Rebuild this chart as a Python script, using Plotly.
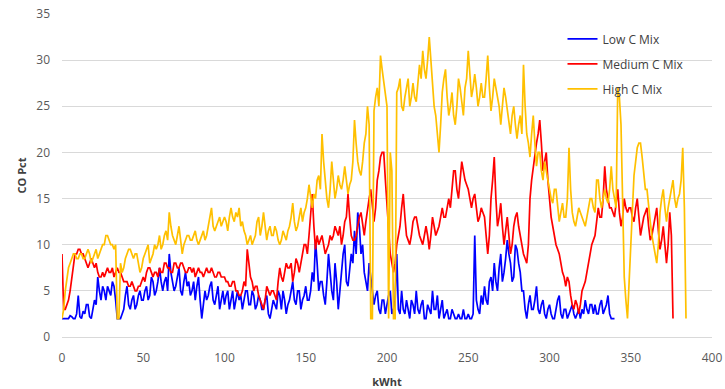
import plotly.graph_objects as go

STEP = 1  # kWht spacing of the readings

low_c = [
    2, 2, 2, 2, 2, 2.3, 2.2, 2, 2, 2.5,
    4.5, 2.2, 2, 2.8, 2.5, 3.5, 3.5, 2.2, 2, 3,
    4, 3.5, 6.5, 5, 4, 5.5, 5, 4, 5.5, 5,
    4.5, 6, 5.5, 4, 2, 2, 2, 2.5, 3, 4.5,
    5.5, 3.5, 3, 4, 4.5, 3, 3.5, 4.5, 5, 4,
    4, 5, 5.5, 4, 4.5, 6.5, 6, 4.5, 5, 6,
    7.5, 6, 5, 6, 6.5, 5, 9, 7, 6, 5,
    5.5, 6.5, 7.5, 5, 4.5, 6, 7, 5.5, 6, 4.5,
    5, 6, 4, 5.5, 6.5, 4, 2, 3.5, 5, 4,
    4.5, 5.5, 6, 4, 3.5, 4.5, 5.5, 3, 4, 5,
    3.5, 4.5, 5, 3, 4, 5, 3, 4, 5, 4,
    4.5, 3, 4, 5, 5, 3.5, 3.5, 5, 4.5, 3,
    3.5, 4.5, 4, 3, 3, 4, 4.5, 2.5, 2, 3,
    4, 3.5, 3, 5, 4.5, 3, 5, 4, 2.5, 3.5,
    4, 5, 6, 4, 3.5, 5, 5, 3, 4, 4.5,
    5.5, 4, 4, 5, 7, 6, 10.5, 8, 5, 6,
    6, 4.5, 3.5, 6, 9, 7, 5, 4, 8, 6,
    3, 5, 7.5, 9, 10, 6, 5.5, 7, 9, 8,
    11.5, 9, 13.5, 12, 9, 10, 7, 6, 5, 8,
    6.5, 5, 3.5, 4.5, 5, 3, 2.5, 4, 4, 2.5,
    3.5, 4.5, 5, 2.5, 3, 4, 9, 3, 2.5, 5,
    3, 2.5, 4, 3, 2, 4, 3.5, 2.5, 5, 3,
    2.5, 3.5, 4, 2, 2, 3.5, 3, 2.5, 5, 3,
    3, 4.5, 2, 3, 4, 2, 2.5, 3, 2, 2,
    3, 2.5, 2, 2, 2.5, 2, 2, 3, 2, 2,
    2.5, 2, 2, 2.5, 11, 4, 3, 2.5, 4.5, 3.5,
    5.5, 4, 3.5, 6, 6.5, 5, 8, 6, 5, 7.5,
    9, 6, 7, 8.5, 10.5, 9, 8, 6, 6.5, 10,
    9.5, 8, 7, 5, 5, 3, 2, 3.5, 4.5, 3,
    3, 4, 5.5, 3, 2.5, 3.5, 4, 2.5, 2, 3,
    3.5, 2.5, 2, 2, 3, 4, 4.5, 2.5, 2, 3,
    3, 2, 2.5, 3, 3.5, 2.5, 2, 2.5, 3, 2,
    3, 2.5, 4, 3, 2.5, 3.5, 3.5, 2.5, 3.5, 2.5,
    2.5, 3.5, 4, 2.5, 3, 3.5, 4.5, 2.5, 2, 2,
    2,
]

medium_c = [
    9, 3, 3, 3.5, 4, 5, 6.5, 7.5, 9, 9,
    9.5, 9.5, 9, 9, 8.5, 8, 7.5, 8, 8.5, 8,
    7.5, 8, 7, 6.5, 6.5, 7, 6.5, 7, 7.5, 7,
    7, 7.5, 6.5, 7, 7.5, 7, 7, 6.5, 6, 6,
    6, 5.5, 5.5, 6, 5.5, 5, 5, 5.5, 5.5, 6,
    6.5, 6, 7, 7.5, 7.5, 7, 6.5, 7, 7, 6.5,
    7.5, 7, 7, 8, 8, 7.5, 7.5, 7, 7, 8,
    8, 7.5, 7.5, 8, 8, 7.5, 7, 7, 7.5, 7.5,
    7, 7.5, 6.5, 7, 7.5, 7, 7, 6.5, 7, 7.5,
    7, 7, 7.5, 7, 6.5, 6.5, 7, 7, 6.5, 6.5,
    6.5, 6, 6, 5.5, 5.5, 6, 6, 5, 5, 4.5,
    4.5, 5, 6, 5.5, 9.5, 8, 6.5, 6, 5, 5.5,
    5.5, 4.5, 4, 3.5, 3, 4, 5.5, 5, 4.5, 5,
    5, 4.5, 4, 6, 7.5, 6.5, 6, 7, 8, 7.5,
    7.5, 8, 6, 7, 8.5, 8, 7, 8, 9, 10,
    10, 9, 11, 13, 15.5, 12, 9.5, 11, 10, 10.5,
    11, 10, 9, 9.5, 10, 11, 10.5, 11, 12, 11.5,
    11, 12, 10, 11, 12.5, 13, 15.5, 13, 11, 10.5,
    10.5, 11, 12, 13, 13.5, 12, 11, 12.5, 14, 15,
    16, 14, 12.5, 14, 17, 18, 19.5, 20, 20, 17,
    14, 11, 9, 8, 7, 8, 10, 11, 12, 14,
    15.5, 13, 11, 10.5, 10, 11, 12.5, 13, 13, 12,
    11, 10.5, 10, 11, 12, 11, 9.5, 11, 13, 12,
    11, 11.5, 12, 13, 14, 13, 13, 14, 15, 14,
    16.5, 18, 18, 16, 15, 17, 19, 18, 17, 16.5,
    16, 15, 14, 15, 15.5, 14, 12.5, 13, 14, 13.5,
    13, 11, 9, 11, 15, 17, 19.5, 15, 12, 13,
    14.5, 12, 10, 11.5, 13, 11, 9, 10, 12, 13,
    13.5, 12, 11, 10, 9, 8.5, 8, 10, 15, 17,
    18.5, 20, 21, 22, 23.5, 21, 18, 19, 20, 17,
    15, 13, 12, 11, 10, 9.5, 9, 8, 7, 6.5,
    5.5, 6.5, 6, 4.5, 3.5, 3, 4, 3.5, 2.5, 3.5,
    5, 5.5, 6, 7, 8, 9, 10, 10.5, 11, 12.5,
    14, 13, 13, 15, 18.5, 16, 15, 14, 14, 13.5,
    13, 14.5, 16, 13.5, 12, 13, 15, 14, 13.5, 14,
    14, 13, 12.5, 14, 15, 13, 11, 12, 13, 13.5,
    14, 12, 10.5, 11, 12, 13, 14, 11.5, 9.5, 10.5,
    12, 10, 8, 10, 13.5, 11, 2,
]

high_c = [
    2, 3, 5, 6.5, 7.5, 8, 8.5, 9, 9, 8.5,
    8.5, 9, 9, 8.5, 8.5, 9, 9.5, 9, 8, 8.5,
    9, 9.5, 8.5, 9, 9.5, 10, 10, 11, 11, 10.5,
    10, 10, 9.5, 10, 2, 2, 8, 7, 7.5, 8.5,
    9, 9.5, 9.5, 9, 8.5, 9, 9, 8, 7, 7.5,
    8.5, 9, 9.5, 10, 8, 8.5, 9, 10, 9.5, 10,
    11, 9.5, 10, 11, 11.5, 10.5, 13.5, 12, 11, 10.5,
    10, 11, 12, 10.5, 9, 10, 10.5, 11, 11, 10.5,
    10.5, 11, 11.5, 10.5, 10, 10.5, 11, 11.5, 10.5, 11,
    12, 13, 14, 12, 11.5, 12, 12.5, 13, 12, 12.5,
    13, 12.5, 11.5, 13, 14, 13, 12.5, 13.5, 13, 14,
    12, 12.5, 11.5, 11, 10, 10.5, 11, 10, 10.5, 11,
    12.5, 13, 11, 12, 13.5, 12, 10.5, 11.5, 12, 11,
    11, 12, 11.5, 10.5, 10, 10.5, 11.5, 11, 10.5, 11.5,
    12, 13, 14.5, 12.5, 11.5, 12, 13, 14, 12.5, 13.5,
    14, 15, 16.5, 15, 14, 15.5, 15, 17, 17.5, 16,
    22, 19, 17, 15, 14, 16, 19, 17, 15, 16,
    17.5, 16.5, 16, 17, 18.5, 17, 15.5, 16.5, 17, 19,
    23.5, 21, 19, 18, 17.5, 19, 21, 22, 25, 23,
    2, 2, 24.5, 26, 27, 25, 30.5, 29, 27.5, 26,
    25, 2, 20, 18, 2, 2, 26.5, 27, 28, 25,
    24.5, 26, 27, 28, 25, 26, 27.5, 26, 25.5, 28,
    29.5, 28, 31, 29, 28, 30, 32.5, 30, 27, 25,
    24, 22, 20, 23, 26.5, 28, 29, 26, 24, 25,
    26.5, 24, 23, 25, 28, 27, 25.5, 24, 27, 28,
    31, 28, 26, 27, 28.5, 27, 25, 26, 27.5, 26,
    26, 28, 30.5, 27, 24.5, 26, 28, 27, 26, 25,
    23, 25, 27, 26, 24.5, 23, 22, 24, 25, 23,
    21.5, 23, 24, 22, 29.5, 25, 22, 21, 19.5, 22,
    24, 21, 18.5, 20, 20, 18, 17, 19, 18, 17,
    16, 15, 14.5, 16, 16, 14, 12.5, 13.5, 14.5, 13,
    13, 15, 20.5, 16, 13.5, 12.5, 12, 13, 14, 13.5,
    13, 12.5, 12, 13, 14, 15, 15, 14, 13.5, 17,
    17, 15, 14, 15, 16, 15, 14.5, 16, 18.5, 16,
    15, 14, 27, 26, 23, 15, 6.5, 4, 2, 6,
    10, 14, 17.5, 19, 20.5, 21, 21, 19.5, 18, 16,
    16, 14, 12.5, 11, 10, 9, 8, 10, 13.5, 15,
    16, 14, 12.5, 14, 15, 16, 17, 15, 14, 15,
    15.5, 17, 20.5, 14, 2,
]

series_names = ["Low C Mix", "Medium C Mix", "High C Mix"]
series_values = [low_c, medium_c, high_c]
series_colors = ["#0000ff", "#ff0000", "#ffc000"]

x_ticks = [0, 50, 100, 150, 200, 250, 300, 350, 400]
y_ticks = [0, 5, 10, 15, 20, 25, 30, 35]

fig = go.Figure()
for i, (name, vals, col) in enumerate(zip(series_names, series_values, series_colors)):
    xs = [k * STEP for k in range(len(vals))]
    fig.add_trace(go.Scatter(
        x=xs, y=vals, mode="lines", name=name,
        line=dict(color=col, width=1.7),
        legendgroup=f"g{i}",
    ))

font_family = "Open Sans, Liberation Sans, sans-serif"
fig.update_layout(
    width=725, height=389,
    margin=dict(l=62, r=13, t=14, b=52),
    paper_bgcolor="white", plot_bgcolor="white",
    font=dict(family=font_family, size=11, color="#595959"),
    showlegend=True,
    legend=dict(
        x=0.770, y=0.968, xanchor="left", yanchor="top",
        bgcolor="rgba(0,0,0,0)", font=dict(size=12, color="#404040"),
        tracegroupgap=6, traceorder="grouped",
    ),
    xaxis=dict(
        range=[0, 400], tickvals=x_ticks, showgrid=False, zeroline=False,
        showline=True, linecolor="#d9d9d9", linewidth=1,
        ticks="", ticklabelstandoff=10, automargin=False,
        tickfont=dict(size=12, color="#595959"),
        title=dict(text="kWht", font=dict(size=11, color="#404040", weight="bold"), standoff=13),
    ),
    yaxis=dict(
        range=[0, 35], tickvals=y_ticks, showgrid=True, gridcolor="#d9d9d9", gridwidth=1,
        zeroline=False, showline=False, ticks="", ticklabelstandoff=11, automargin=False,
        tickfont=dict(size=12, color="#595959"),
        title=dict(text="CO Pct", font=dict(size=11, color="#404040", weight="bold"), standoff=7),
    ),
)

fig.write_html("out.html")
